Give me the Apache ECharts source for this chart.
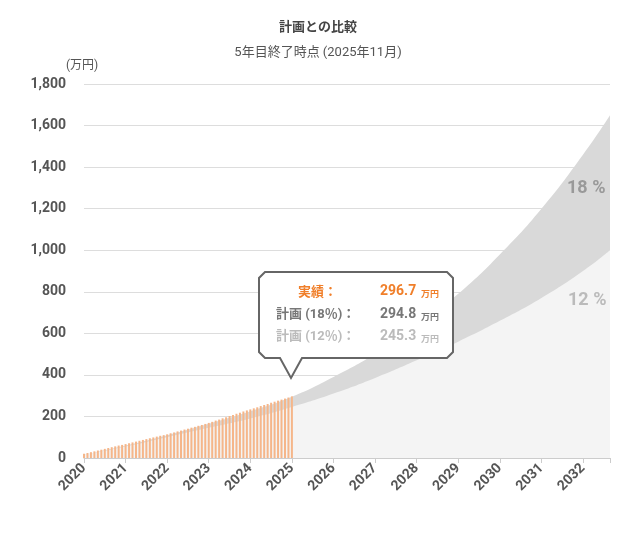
<!DOCTYPE html>
<html><head><meta charset="utf-8">
<script src="https://cdn.jsdelivr.net/npm/echarts@6/dist/echarts.min.js"></script>
<style>html,body{margin:0;padding:0;background:#fff}#c{width:636px;height:535px}</style>
</head><body><div id="c"></div>
<script>
// 実績 (月次, 2020/01 から)
var actual = [
    20, 24, 28, 32, 36, 40, 44, 48, 52, 56, 60, 63,
    67, 71, 75, 79, 83, 87, 91, 95, 99, 103, 107, 110,
    114, 119, 123, 128, 132, 137, 141, 146, 150, 155, 159, 164,
    169, 174, 180, 185, 191, 196, 202, 207, 213, 218, 224, 229,
    234, 239, 244, 250, 255, 260, 266, 271, 276, 281, 286, 291,
    296.7
];
var planYears = [2020, 2021, 2022, 2023, 2024, 2025, 2026, 2027, 2028, 2029, 2030, 2031, 2032, 2032.65];
var plan18 = [15, 60, 110, 165, 225, 294.8, 390, 500, 630, 790, 980, 1200, 1460, 1650];
var plan12 = [15, 55, 100, 145, 190, 245.3, 310, 385, 470, 560, 660, 770, 900, 1000];

var font = 'Roboto, "Noto Sans CJK JP", sans-serif';
var chart = echarts.init(document.getElementById('c'));
var pair = function (ys) { return planYears.map(function (x, i) { return [x, ys[i]]; }); };

chart.setOption({
    animation: false,
    textStyle: { fontFamily: font },
    title: {
        text: '計画との比較', subtext: '5年目終了時点 (2025年11月)', left: 'center', top: 16, itemGap: 12,
        textStyle: { fontSize: 13, fontWeight: 'bold', color: '#444' },
        subtextStyle: { fontSize: 13, color: '#555' }
    },
    grid: { left: 84, right: 26, top: 84, bottom: 77 },
    xAxis: {
        type: 'value', min: 2020, max: 2032.65, interval: 1,
        axisLine: { lineStyle: { color: '#ccc' } },
        axisTick: { show: true, lineStyle: { color: '#ccc' } },
        splitLine: { show: false },
        axisLabel: { rotate: 45, fontSize: 14, fontWeight: 'bold', color: '#555', margin: 8,
            formatter: function (v) { return Number.isInteger(v) ? v : ''; } }
    },
    yAxis: {
        type: 'value', min: 0, max: 1800, interval: 200,
        name: '(万円)', nameGap: 12, nameTextStyle: { color: '#555', fontSize: 12, align: 'left', padding: [0, 0, 0, -18] },
        axisLine: { show: false }, axisTick: { show: false },
        splitLine: { lineStyle: { color: '#ddd' } },
        axisLabel: { fontSize: 14, fontWeight: 'bold', color: '#555', margin: 18,
            formatter: function (v) { return v.toLocaleString('en-US'); } }
    },
    series: [
        { type: 'line', data: pair(plan18), smooth: true, symbol: 'none', lineStyle: { width: 0 },
          areaStyle: { color: '#d9d9d9', opacity: 1 }, z: 1 },
        { type: 'line', data: pair(plan12), smooth: true, symbol: 'none', lineStyle: { width: 0 },
          areaStyle: { color: '#f4f4f4', opacity: 1 }, z: 2 },
        { type: 'bar', data: actual.map(function (v, i) { return [2020 + i / 12, v]; }),
          barWidth: 2, itemStyle: { color: '#f5b68a' }, z: 3 }
    ],
    graphic: [
        { type: 'text', x: 567, y: 180, z: 20, style: { text: '18 %', fill: '#999', fontSize: 18, fontWeight: 'bold', fontFamily: font } },
        { type: 'text', x: 568, y: 292, z: 20, style: { text: '12 %', fill: '#bbb', fontSize: 18, fontWeight: 'bold', fontFamily: font } },
        { type: 'polygon', shape: { points: [[265, 272], [447, 272], [453, 278], [453, 352], [447, 358],
              [302, 358], [291, 378], [280, 358], [265, 358], [259, 352], [259, 278]] },
          style: { fill: '#fff', stroke: '#666', lineWidth: 2 }, z: 10 },
        { type: 'text', left: 298, top: 286, z: 11, style: { text: '実績：', fill: '#f07f2a', font: 'bold 13px ' + font } },
        { type: 'text', left: 380, top: 285, z: 11, style: { text: '296.7', fill: '#f07f2a', font: 'bold 14px ' + font } },
        { type: 'text', left: 421, top: 290, z: 11, style: { text: '万円', fill: '#f07f2a', font: 'bold 9px ' + font } },
        { type: 'text', left: 276, top: 308, z: 11, style: { text: '計画 (18％)：', fill: '#777', font: 'bold 13px ' + font } },
        { type: 'text', left: 380, top: 308, z: 11, style: { text: '294.8', fill: '#777', font: 'bold 14px ' + font } },
        { type: 'text', left: 421, top: 313, z: 11, style: { text: '万円', fill: '#777', font: 'bold 9px ' + font } },
        { type: 'text', left: 276, top: 330, z: 11, style: { text: '計画 (12％)：', fill: '#bbb', font: 'bold 13px ' + font } },
        { type: 'text', left: 380, top: 330, z: 11, style: { text: '245.3', fill: '#bbb', font: 'bold 14px ' + font } },
        { type: 'text', left: 421, top: 335, z: 11, style: { text: '万円', fill: '#bbb', font: 'bold 9px ' + font } }
    ]
});
</script></body></html>
